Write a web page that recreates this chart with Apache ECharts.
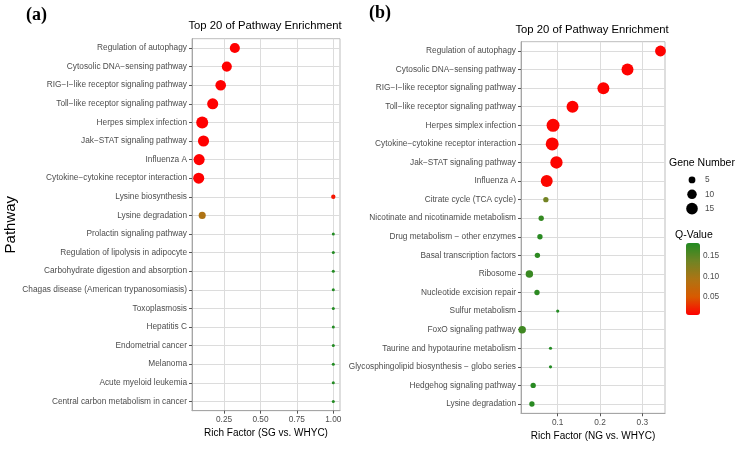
<!DOCTYPE html>
<html>
<head>
<meta charset="utf-8">
<title>Top 20 of Pathway Enrichment</title>
<style>
  html, body { margin: 0; padding: 0; background: #fff; }
  #chart { width: 740px; height: 455px; }
</style>
</head>
<body>
<div id="chart"></div>
<script src="https://cdn.jsdelivr.net/npm/echarts@6/dist/echarts.min.js"></script>
<script>
// (a) SG vs. WHYC
var pathwaysA = [
  'Regulation of autophagy',
  'Cytosolic DNA\u2212sensing pathway',
  'RIG\u2212I\u2212like receptor signaling pathway',
  'Toll\u2212like receptor signaling pathway',
  'Herpes simplex infection',
  'Jak\u2212STAT signaling pathway',
  'Influenza A',
  'Cytokine\u2212cytokine receptor interaction',
  'Lysine biosynthesis',
  'Lysine degradation',
  'Prolactin signaling pathway',
  'Regulation of lipolysis in adipocyte',
  'Carbohydrate digestion and absorption',
  'Chagas disease (American trypanosomiasis)',
  'Toxoplasmosis',
  'Hepatitis C',
  'Endometrial cancer',
  'Melanoma',
  'Acute myeloid leukemia',
  'Central carbon metabolism in cancer'
];
var richA = [0.324, 0.269, 0.227, 0.172, 0.100, 0.109, 0.079, 0.076, 1.0, 0.100,
             1.0, 1.0, 1.0, 1.0, 1.0, 1.0, 1.0, 1.0, 1.0, 1.0];
var genesA = [10, 10, 11, 12, 14, 12, 12, 12, 2, 5, 1, 1, 1, 1, 1, 1, 1, 1, 1, 1];
var qA = [0.002, 0.002, 0.002, 0.002, 0.002, 0.002, 0.002, 0.002, 0.013, 0.100,
          0.2, 0.2, 0.2, 0.2, 0.2, 0.2, 0.2, 0.2, 0.2, 0.2];

// (b) NG vs. WHYC
var pathwaysB = [
  'Regulation of autophagy',
  'Cytosolic DNA\u2212sensing pathway',
  'RIG\u2212I\u2212like receptor signaling pathway',
  'Toll\u2212like receptor signaling pathway',
  'Herpes simplex infection',
  'Cytokine\u2212cytokine receptor interaction',
  'Jak\u2212STAT signaling pathway',
  'Influenza A',
  'Citrate cycle (TCA cycle)',
  'Nicotinate and nicotinamide metabolism',
  'Drug metabolism \u2212 other enzymes',
  'Basal transcription factors',
  'Ribosome',
  'Nucleotide excision repair',
  'Sulfur metabolism',
  'FoxO signaling pathway',
  'Taurine and hypotaurine metabolism',
  'Glycosphingolipid biosynthesis \u2212 globo series',
  'Hedgehog signaling pathway',
  'Lysine degradation'
];
var richB = [0.343, 0.265, 0.208, 0.135, 0.089, 0.087, 0.097, 0.074, 0.072, 0.061,
             0.058, 0.052, 0.033, 0.051, 0.100, 0.016, 0.083, 0.083, 0.042, 0.039];
var genesB = [13, 16, 16, 16, 19, 19, 17, 16, 3, 3, 3, 3, 6, 3, 1, 6, 1, 1, 3, 3];
var qB = [0.007, 0.007, 0.007, 0.007, 0.008, 0.008, 0.008, 0.009, 0.135, 0.172,
          0.178, 0.176, 0.168, 0.176, 0.182, 0.165, 0.182, 0.182, 0.178, 0.178];

var legendGenes = [5, 10, 15];
var qTicks = [0.05, 0.10, 0.15];
var xTicksA = [0.25, 0.50, 0.75, 1.00];
var xTicksB = [0.1, 0.2, 0.3];
var rowTicks = pathwaysA.map(function (p, i) { return i; });

var ramp = ['#ff0000', '#d85a00', '#ad7414', '#6f8424', '#228b22'];
var font = 'Liberation Sans, Arial, sans-serif';
var serif = 'Liberation Serif, Times New Roman, serif';

// ggplot-like size scale: diameter linear in sqrt(genes)
function sizeScale(genes, rmin, rmax) {
  var lo = Math.sqrt(Math.min.apply(null, genes));
  var hi = Math.sqrt(Math.max.apply(null, genes));
  return function (n) {
    return rmin + (Math.sqrt(n) - lo) / (hi - lo) * (rmax - rmin);
  };
}
var sizeA = sizeScale(genesA, 3, 12);
var sizeB = sizeScale(genesB, 3.2, 13);

function rows(names, rich, genes, q) {
  return names.map(function (p, i) { return [rich[i], i, genes[i], q[i]]; });
}

function catAxis(idx, names, title) {
  return {
    type: 'value', gridIndex: idx, min: -0.5, max: 19.5, inverse: true,
    name: title || '', nameLocation: 'middle', nameGap: 172,
    nameTextStyle: { fontSize: 15, color: '#000', fontFamily: font },
    axisLine: { show: true, onZero: false, lineStyle: { color: '#a6a6a6' } },
    axisTick: { show: true, length: 3, customValues: rowTicks, lineStyle: { color: '#555' } },
    axisLabel: {
      customValues: rowTicks, margin: 5, fontSize: 8.3, color: '#4d4d4d', fontFamily: font,
      formatter: function (v) { return names[Math.round(v)]; }
    },
    splitLine: { show: true, lineStyle: { color: '#dcdcdc' } }
  };
}

function richAxis(idx, min, max, ticks, digits, title) {
  return {
    type: 'value', gridIndex: idx, min: min, max: max,
    name: title, nameLocation: 'middle', nameGap: 16,
    nameTextStyle: { fontSize: 10, color: '#000', fontFamily: font },
    axisLine: { show: true, onZero: false, lineStyle: { color: '#a6a6a6' } },
    axisTick: { show: true, length: 3, customValues: ticks, lineStyle: { color: '#555' } },
    axisLabel: {
      customValues: ticks, margin: 5, fontSize: 8.3, color: '#4d4d4d', fontFamily: font,
      formatter: function (v) { return v.toFixed(digits); }
    },
    splitLine: { show: true, lineStyle: { color: '#dcdcdc' } }
  };
}

function txt(x, y, s, fontSpec, align) {
  return {
    type: 'text', x: x, y: y, z: 100,
    style: {
      text: s, fill: '#000', font: fontSpec,
      align: align, verticalAlign: 'middle',
      textAlign: align, textVerticalAlign: 'middle'
    }
  };
}

var chart = echarts.init(document.getElementById('chart'));

var option = {
  backgroundColor: '#fff',
  animation: false,
  textStyle: { fontFamily: font },
  grid: [
    { left: 192, top: 38.7, width: 148, height: 372, show: true, borderColor: '#bdbdbd', borderWidth: 1, backgroundColor: 'transparent' },
    { left: 521, top: 41.7, width: 144, height: 371.6, show: true, borderColor: '#bdbdbd', borderWidth: 1, backgroundColor: 'transparent' },
    { left: 682, top: 172.8, width: 20, height: 43 },
    { left: 686, top: 243, width: 14, height: 72 }
  ],
  xAxis: [
    richAxis(0, 0.03, 1.046, xTicksA, 2, 'Rich Factor (SG vs. WHYC)'),
    richAxis(1, 0.0132, 0.3537, xTicksB, 1, 'Rich Factor (NG vs. WHYC)'),
    { type: 'value', gridIndex: 2, min: -1, max: 1, show: false },
    { type: 'value', gridIndex: 3, min: 0, max: 1, show: false }
  ],
  yAxis: [
    catAxis(0, pathwaysA, 'Pathway'),
    catAxis(1, pathwaysB),
    {
      type: 'category', gridIndex: 2, inverse: true, position: 'right',
      data: legendGenes.map(String),
      axisLine: { show: false }, axisTick: { show: false }, splitLine: { show: false },
      axisLabel: { margin: 3, fontSize: 8.3, color: '#4d4d4d', fontFamily: font }
    },
    {
      type: 'value', gridIndex: 3, min: 0.006, max: 0.182, position: 'right', z: 10,
      axisLine: { show: false },
      axisTick: { show: true, inside: true, length: 3, customValues: qTicks, lineStyle: { color: '#fff' } },
      axisLabel: {
        customValues: qTicks, margin: 3, fontSize: 8.3, color: '#4d4d4d', fontFamily: font,
        formatter: function (v) { return v.toFixed(2); }
      },
      splitLine: { show: false }
    }
  ],
  visualMap: [
    {
      type: 'continuous', seriesIndex: 0, dimension: 3, min: 0.002, max: 0.2,
      show: false, inRange: { color: ramp }
    },
    {
      type: 'continuous', seriesIndex: 1, dimension: 3, min: 0.006, max: 0.182,
      show: true, left: 686, top: 243, itemWidth: 14, itemHeight: 72, padding: 0,
      calculable: false, hoverLink: false, text: null,
      inRange: { color: ramp }
    }
  ],
  series: [
    {
      type: 'scatter', xAxisIndex: 0, yAxisIndex: 0, z: 5,
      itemStyle: { opacity: 1 },
      data: rows(pathwaysA, richA, genesA, qA),
      symbolSize: function (v) { return sizeA(v[2]); }
    },
    {
      type: 'scatter', xAxisIndex: 1, yAxisIndex: 1, z: 5,
      itemStyle: { opacity: 1 },
      data: rows(pathwaysB, richB, genesB, qB),
      symbolSize: function (v) { return sizeB(v[2]); }
    },
    {
      type: 'scatter', xAxisIndex: 2, yAxisIndex: 2,
      itemStyle: { color: '#000', opacity: 1 },
      data: legendGenes.map(function (g, i) { return [0, i, g]; }),
      symbolSize: function (v) { return sizeB(v[2]); }
    }
  ],
  graphic: [
    txt(26, 15, '(a)', 'bold 18px ' + serif, 'left'),
    txt(369, 13, '(b)', 'bold 18px ' + serif, 'left'),
    txt(265, 26, 'Top 20 of Pathway Enrichment', '11.3px ' + font, 'center'),
    txt(592, 30, 'Top 20 of Pathway Enrichment', '11.3px ' + font, 'center'),
    txt(669, 163, 'Gene Number', '10.5px ' + font, 'left'),
    txt(675, 235, 'Q-Value', '10.5px ' + font, 'left')
  ]
};

chart.setOption(option);
</script>
</body>
</html>
